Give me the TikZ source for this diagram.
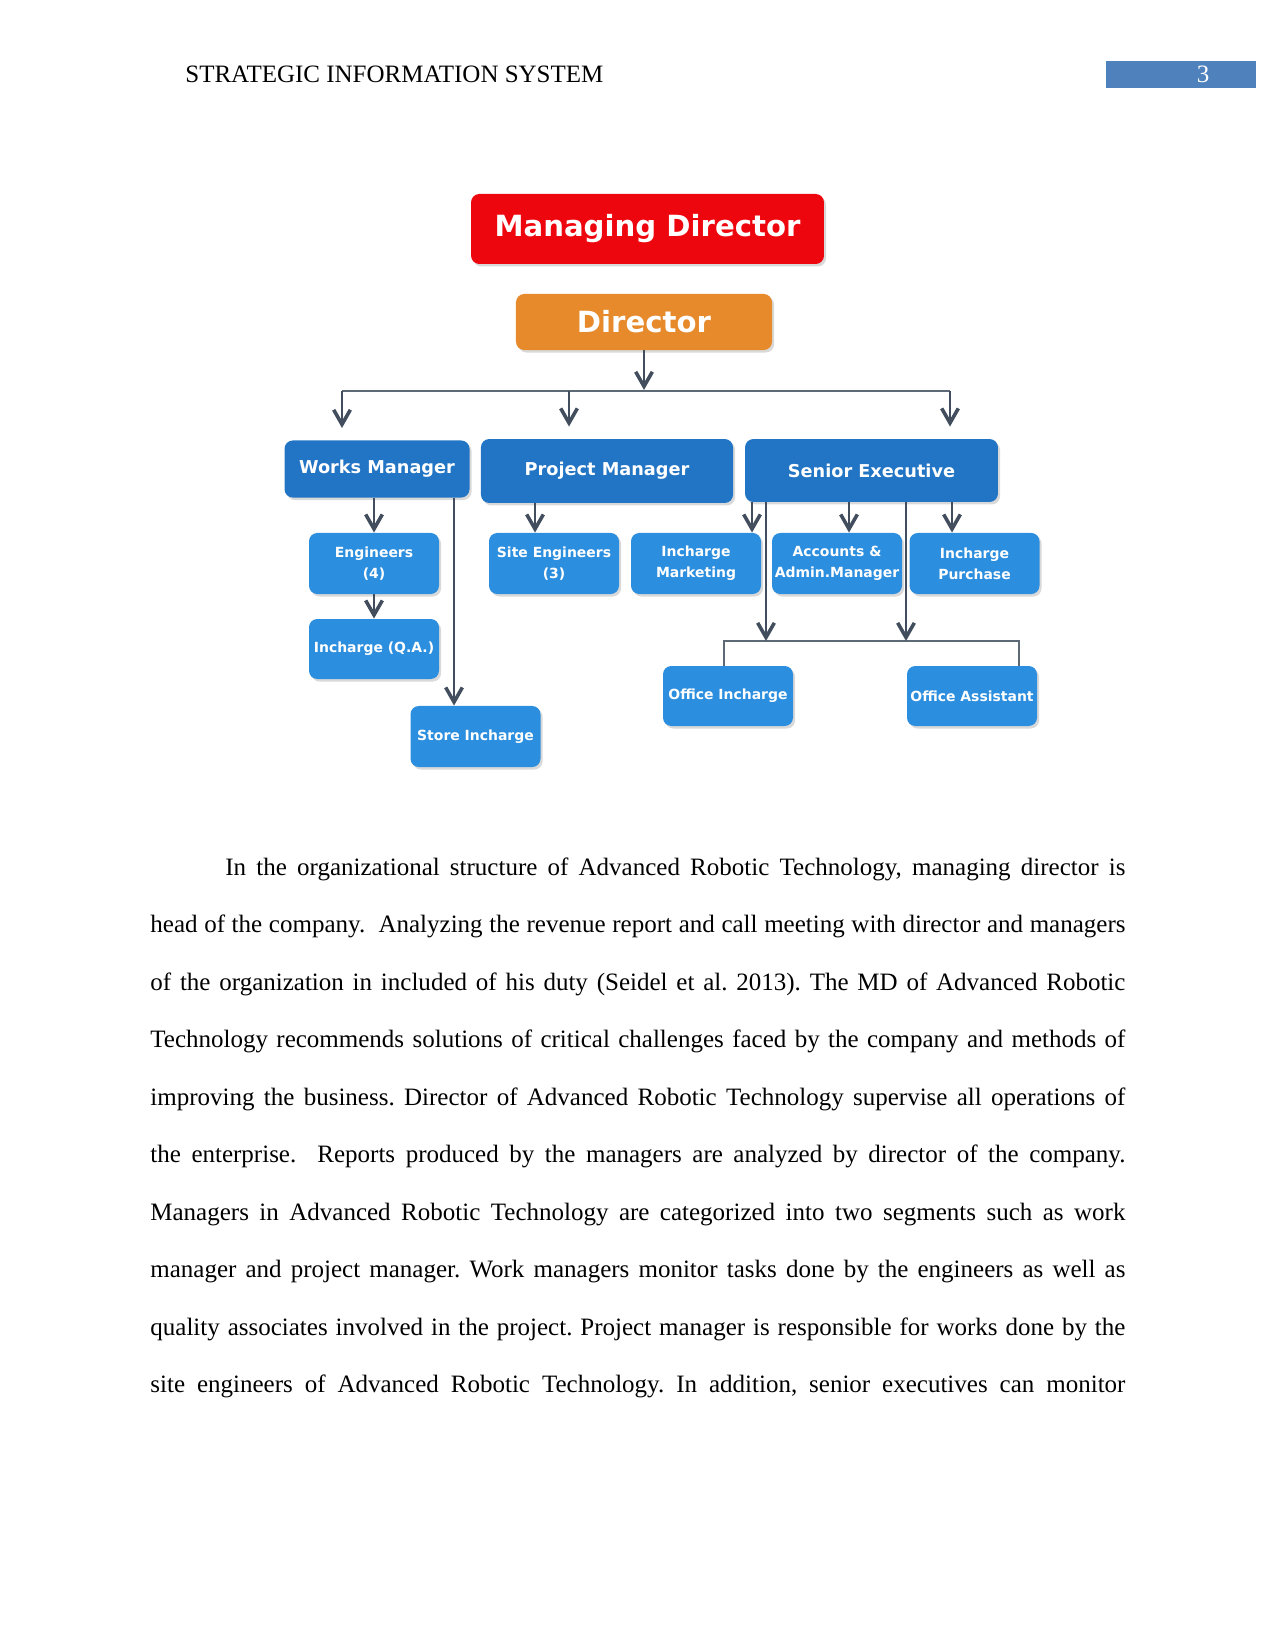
\documentclass[tikz,border=0pt]{standalone}
\usepackage{fontspec}
\setmainfont{Liberation Serif}
\newfontfamily\chartfont{DejaVu Sans}
\usetikzlibrary{arrows.meta,shadows}
\definecolor{mdred}{RGB}{238,6,14}
\definecolor{dirorange}{RGB}{230,138,44}
\definecolor{mgrblue}{RGB}{34,116,196}
\definecolor{staffblue}{RGB}{44,142,222}
\definecolor{linkgray}{RGB}{66,78,94}
\definecolor{pagebar}{RGB}{79,129,189}
\tikzset{
  org box/.style={rounded corners=4pt,text=white,inner sep=0pt,
    drop shadow={opacity=0.3,shadow xshift=1pt,shadow yshift=-1.2pt}},
  top box/.style={org box,font=\chartfont\bfseries\fontsize{14}{16}\selectfont},
  mgr box/.style={org box,fill=mgrblue,font=\chartfont\bfseries\fontsize{8.5}{10}\selectfont},
  staff box/.style={org box,fill=staffblue,minimum width=62.4pt,minimum height=29.3pt,
    align=center,font=\chartfont\bfseries\fontsize{6.7}{10}\selectfont},
  org arrow/.style={linkgray,line width=1.2pt,
    -{Straight Barb[length=7pt,width=8pt,line width=1.7pt]}},
  org long/.style={org arrow,line width=0.8pt},
  org bus/.style={linkgray!85,line width=0.8pt},
  page text/.style={font=\fontsize{12}{14}\selectfont},
}

\begin{document}
\begin{tikzpicture}[x=0.48pt,y=-0.48pt]
  \useasboundingbox (0,0) rectangle (1275,1650);
  % running head
  \node[page text,anchor=base west] (hdr) at (178,83) {STRATEGIC INFORMATION SYSTEM};
  \node[fill=pagebar,minimum width=72pt,minimum height=13pt,inner sep=0pt] (pgbox) at (1181,74.5) {};
  \node[page text,text=white,anchor=base] (pgno) at (1203,83) {3};

  % chart
  \node[top box,fill=mdred,minimum width=169.4pt,minimum height=33.6pt] (md) at (647.5,229) {Managing Director};
  \node[top box,fill=dirorange,minimum width=122.9pt,minimum height=26.9pt] (dir) at (644,322) {Director};
  \node[mgr box,minimum width=88.8pt,minimum height=27.4pt] (wm) at (377,469) {Works Manager};
  \node[mgr box,minimum width=121pt,minimum height=30.7pt] (pm) at (607,471) {Project Manager};
  \node[mgr box,minimum width=121.4pt,minimum height=30.2pt] (se) at (871.5,470.5) {Senior Executive};
  \node[staff box] (eng) at (374,563.5) {Engineers\\(4)};
  \node[staff box,minimum height=28.8pt] (qa) at (374,649) {Incharge (Q.A.)};
  \node[staff box] (store) at (475.5,736.5) {Store Incharge};
  \node[staff box] (site) at (554,563.5) {Site Engineers\\(3)};
  \node[staff box] (mkt) at (696,563.5) {Incharge\\Marketing};
  \node[staff box] (acc) at (837,563.5) {Accounts \&\\Admin.Manager};
  \node[staff box] (pur) at (974.5,563.5) {Incharge\\Purchase};
  \node[staff box,minimum height=28.8pt] (offinc) at (728,696) {Office Incharge};
  \node[staff box,minimum height=28.8pt] (offasst) at (972,696) {Office Assistant};

  \coordinate (bus w) at (342,391);
  \coordinate (bus m) at (569,391);
  \coordinate (bus e) at (950,391);
  \coordinate (st) at (454,0);
  \coordinate (ps) at (535,0);
  \coordinate (sm) at (752,0);
  \coordinate (sa) at (849,0);
  \coordinate (sp) at (952,0);
  \coordinate (ob w) at (724,641);
  \coordinate (ob e) at (1019,641);
  \coordinate (oa) at (766,641);
  \coordinate (oc) at (906,641);

  \draw[org bus] (bus w) -- (bus e);
  \draw[org arrow,shorten >=0.5pt] (dir) -- (dir |- bus w);
  \draw[org arrow,shorten >=5.8pt] (bus w) -- (bus w |- wm.north);
  \draw[org arrow,shorten >=5.8pt] (bus m) -- (bus m |- pm.north);
  \draw[org arrow,shorten >=5.8pt] (bus e) -- (bus e |- se.north);
  \draw[org arrow] (eng |- wm.south) -- (eng.north);
  \draw[org arrow] (eng) -- (qa);
  \draw[org long] (wm.south -| st) -- (st |- store.north);
  \draw[org arrow] (pm.south -| ps) -- (ps |- site.north);
  \draw[org arrow] (se.south -| sm) -- (sm |- mkt.north);
  \draw[org arrow] (se.south -| sa) -- (sa |- acc.north);
  \draw[org arrow] (se.south -| sp) -- (sp |- pur.north);
  \draw[org bus] (ob w |- offinc.north) -- (ob w) -- (ob e) -- (ob e |- offasst.north);
  \draw[org long] (se.south -| oa) -- (oa);
  \draw[org long] (se.south -| oc) -- (oc);

  % body text
  \node[anchor=base west,text width=468pt,align=justify,inner sep=0pt,
    font=\fontsize{12}{27.6}\selectfont] (body) at (150,875) {\frenchspacing\parfillskip=0pt\tolerance=10000\hyphenpenalty=10000
    \hspace*{36pt}In the organizational structure of Advanced Robotic Technology, managing director is\linebreak
    head of the company.\ \ Analyzing the revenue report and call meeting with director and managers\linebreak
    of the organization in included of his duty (Seidel et al. 2013). The MD of Advanced Robotic\linebreak
    Technology recommends solutions of critical challenges faced by the company and methods of\linebreak
    improving the business. Director of Advanced Robotic Technology supervise all operations of\linebreak
    the enterprise.\ \ Reports produced by the managers are analyzed by director of the company.\linebreak
    Managers in Advanced Robotic Technology are categorized into two segments such as work\linebreak
    manager and project manager. Work managers monitor tasks done by the engineers as well as\linebreak
    quality associates involved in the project. Project manager is responsible for works done by the\linebreak
    site engineers of Advanced Robotic Technology. In addition, senior executives can monitor\par};
\end{tikzpicture}
\end{document}
